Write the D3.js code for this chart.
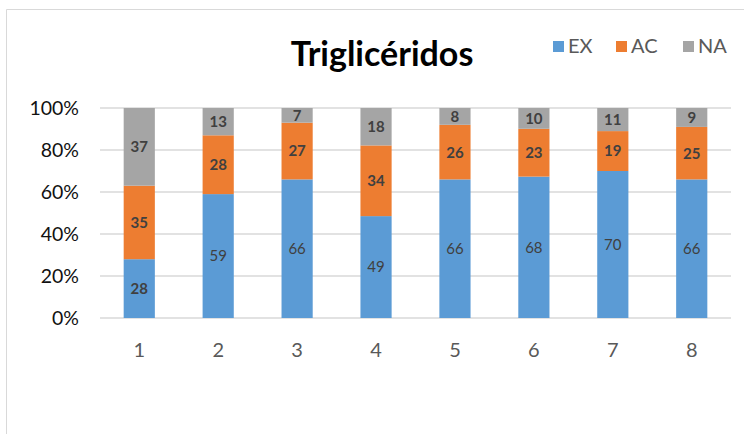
<!DOCTYPE html>
<html>
<head>
<meta charset="utf-8">
<script src="https://cdn.jsdelivr.net/npm/d3@7/dist/d3.min.js"></script>
<style>
  html, body { margin: 0; padding: 0; background: #fff; }
  svg { display: block; font-family: Lato, "Open Sans", sans-serif; }
</style>
</head>
<body>
<svg id="chart" width="744" height="434"></svg>
<script>
// Categories and series values (counts per group)
const categories = ["1", "2", "3", "4", "5", "6", "7", "8"];
const seriesNames = ["EX", "AC", "NA"];
const exValues = [28, 59, 66, 49, 66, 68, 70, 66];
const acValues = [35, 28, 27, 34, 26, 23, 19, 25];
const naValues = [37, 13, 7, 18, 8, 10, 11, 9];
const yTicks = [0, 0.2, 0.4, 0.6, 0.8, 1.0];
const colors = ["#5b9bd5", "#ed7d31", "#a5a5a5"];

const rows = categories.map((c, i) => ({ cat: c, EX: exValues[i], AC: acValues[i], NA: naValues[i] }));

const svg = d3.select("#chart");
const W = 744, H = 434;

// outer chart frame
svg.append("path")
  .attr("d", `M6.5,${H} V9.5 H${W}`)
  .attr("fill", "none").attr("stroke", "#d9d9d9").attr("stroke-width", 1);

const plot = { left: 100, right: 731, top: 108, bottom: 318 };

const x = d3.scaleBand().domain(categories).range([plot.left, plot.right]).paddingInner(0.605).paddingOuter(0.3);
const y = d3.scaleLinear().domain([0, 1]).range([plot.bottom, plot.top]);

// gridlines
svg.append("g").selectAll("line").data(yTicks).join("line")
  .attr("x1", plot.left).attr("x2", plot.right)
  .attr("y1", d => y(d)).attr("y2", d => y(d))
  .attr("stroke", "#d9d9d9").attr("stroke-width", 1.3);

// y axis labels
const yAxis = d3.axisLeft(y).tickValues(yTicks).tickFormat(d3.format(".0%")).tickSize(0).tickPadding(0);
const gy = svg.append("g").attr("transform", `translate(79,0)`).call(yAxis);
gy.select(".domain").remove();
gy.selectAll("text").attr("font-size", 19.5).attr("fill", "#111").attr("font-family", "Lato, sans-serif");

// x axis labels
const xAxis = d3.axisBottom(x).tickSize(0).tickPadding(0);
const gx = svg.append("g").attr("transform", `translate(0,343)`).call(xAxis);
gx.select(".domain").remove();
gx.selectAll("text").attr("font-size", 20).attr("fill", "#595959").attr("font-family", "Lato, sans-serif");

// stacked, normalised to 100%
const stack = d3.stack().keys(seriesNames).offset(d3.stackOffsetExpand);
const layers = stack(rows);

const g = svg.append("g");
layers.forEach((layer, li) => {
  g.append("g").selectAll("rect").data(layer).join("rect")
    .attr("x", d => x(d.data.cat))
    .attr("width", x.bandwidth())
    .attr("y", d => y(d[1]))
    .attr("height", d => y(d[0]) - y(d[1]))
    .attr("fill", colors[li]);
});

// segment value labels
layers.forEach((layer, li) => {
  g.append("g").selectAll("text").data(layer).join("text")
    .attr("x", d => x(d.data.cat) + x.bandwidth() / 2)
    .attr("y", d => (y(d[0]) + y(d[1])) / 2)
    .attr("dy", "0.36em")
    .attr("text-anchor", "middle")
    .attr("font-size", 15)
    .attr("font-weight", (d, i) => (li > 0 || i === 0) ? "bold" : "normal")
    .attr("fill", "#404040")
    .text(d => d.data[layer.key]);
});

// title
svg.append("text")
  .attr("x", 382).attr("y", 66)
  .attr("text-anchor", "middle")
  .attr("font-size", 34).attr("font-weight", "bold").attr("fill", "#000")
  .text("Triglicéridos");

// legend
const legendX = [553, 616, 683];
const lg = svg.append("g");
seriesNames.forEach((s, i) => {
  lg.append("rect").attr("x", legendX[i]).attr("y", 41).attr("width", 11).attr("height", 11).attr("fill", colors[i]);
  lg.append("text").attr("x", legendX[i] + 15).attr("y", 46).attr("dy", "0.36em")
    .attr("font-size", 20).attr("fill", "#595959").text(s);
});
</script>
</body>
</html>
